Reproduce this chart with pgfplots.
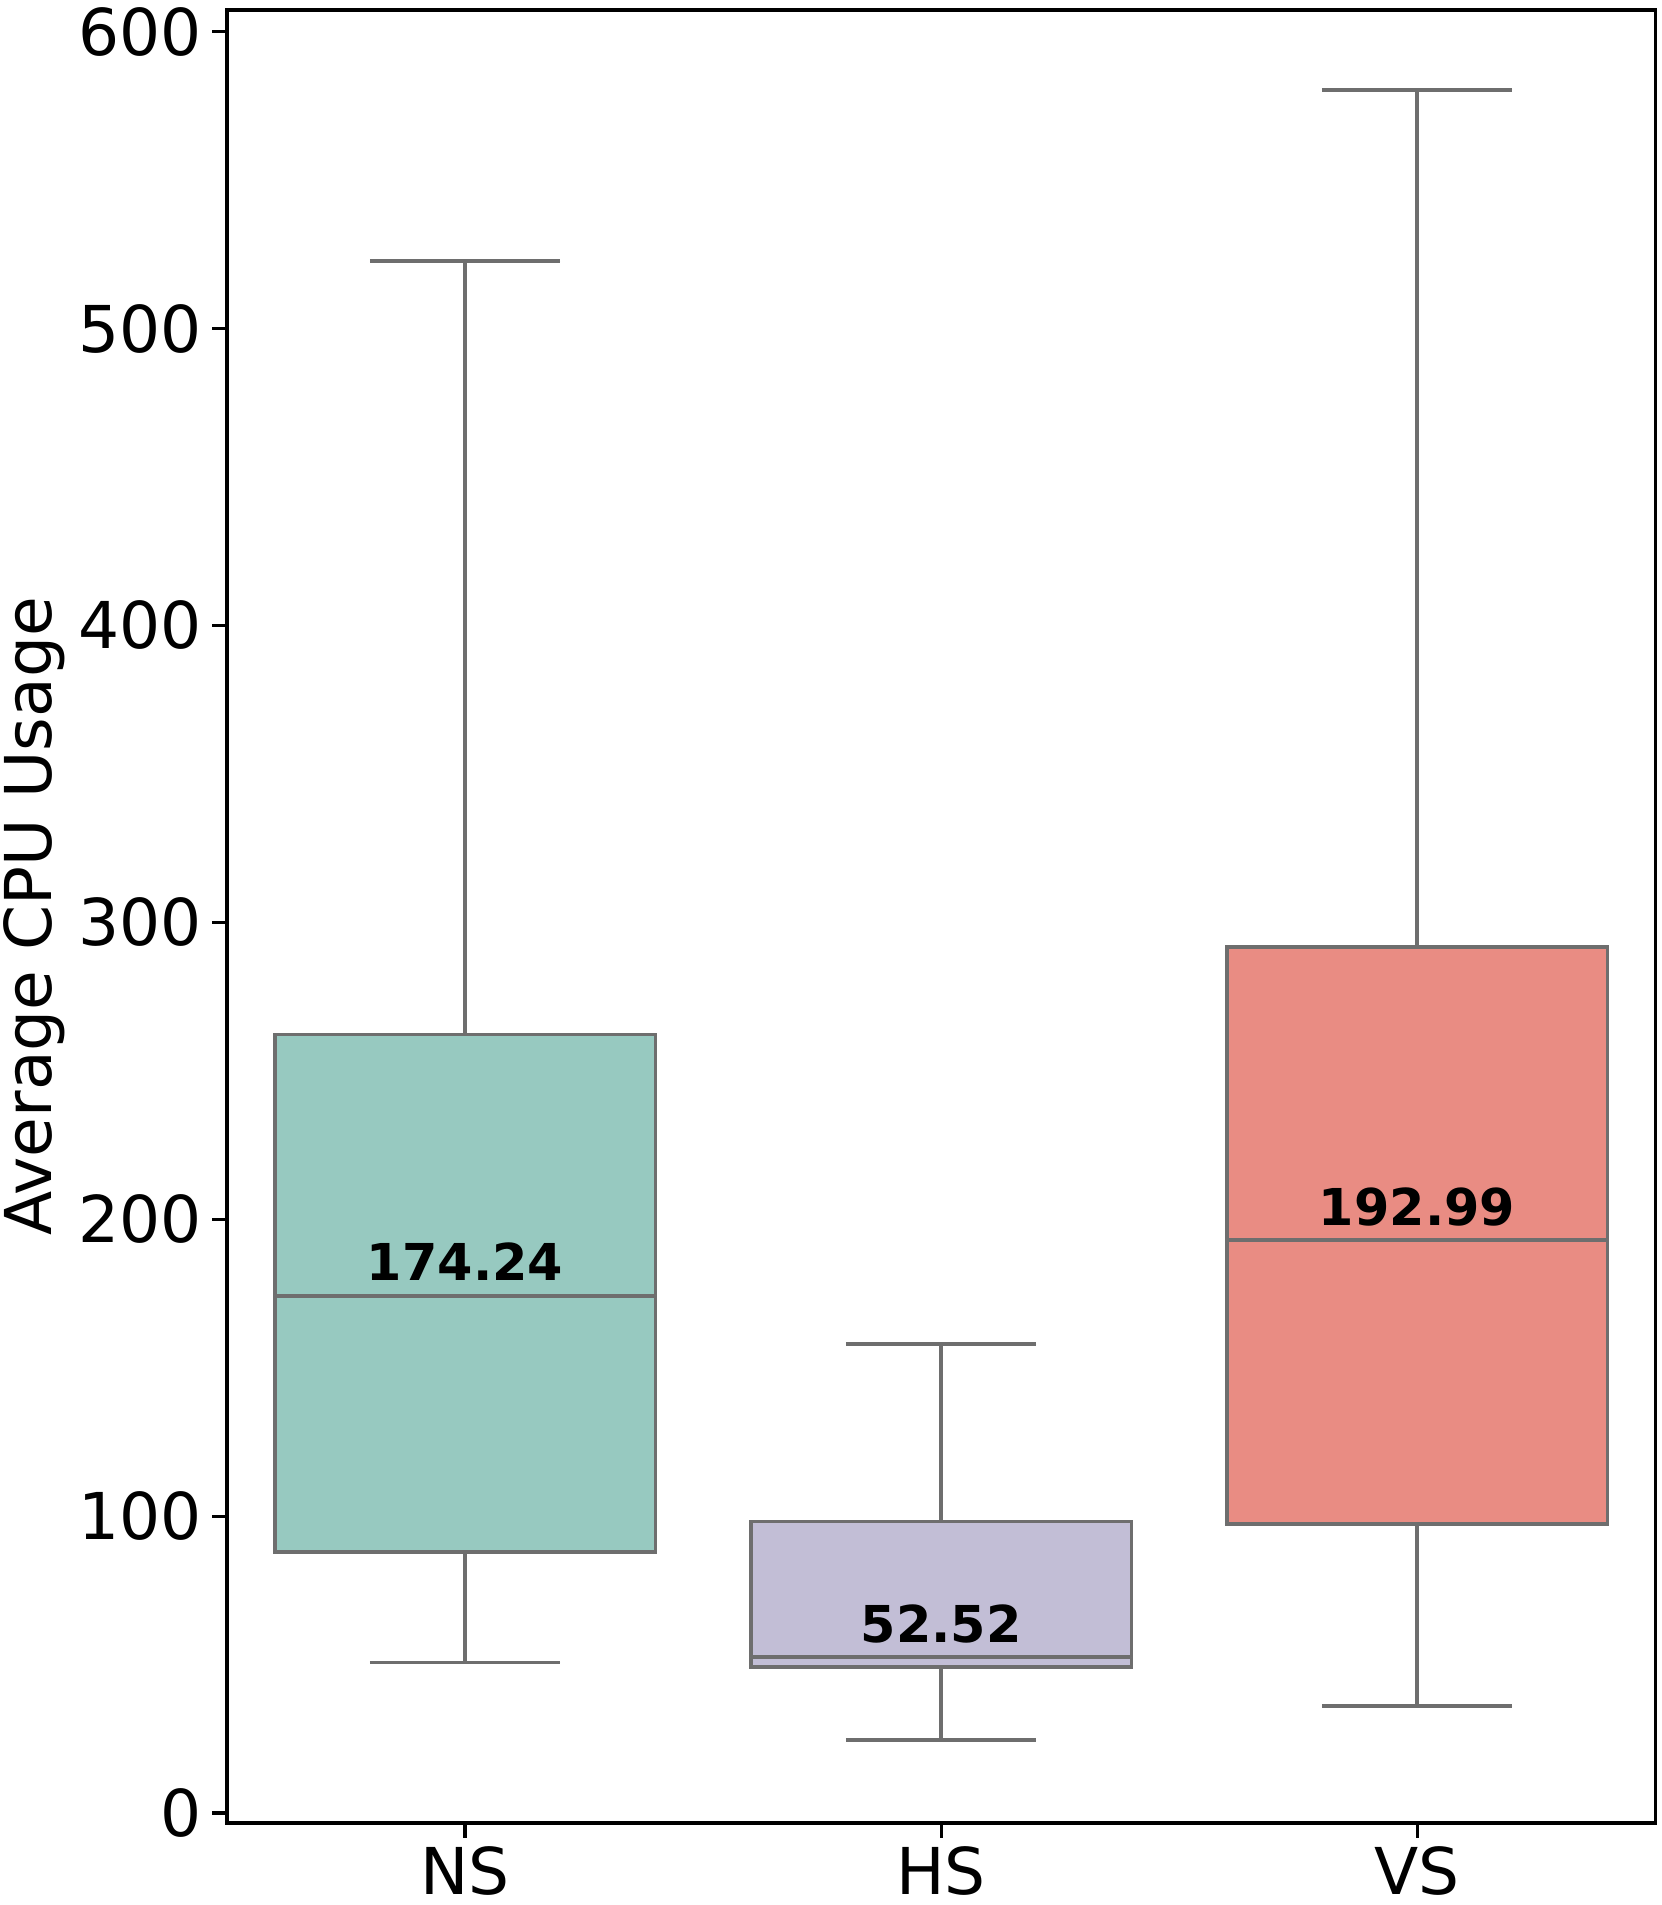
\documentclass[border=0pt]{standalone}
\usepackage{fontspec}
\setmainfont{DejaVu Sans}
\usepackage{pgfplots}
\pgfplotsset{compat=1.18}
\usepgfplotslibrary{statistics}

\definecolor{nsfill}{HTML}{97C9C0}
\definecolor{hsfill}{HTML}{C2BED6}
\definecolor{vsfill}{HTML}{E98C83}
\definecolor{linegray}{HTML}{6E6E6E}

\begin{document}
\begin{tikzpicture}
\begin{axis}[
    scale only axis,
    width=342.7pt, height=435.1pt,
    xmin=-0.5, xmax=2.5,
    ymin=-3.4, ymax=607.3,
    xtick={0,1,2},
    xticklabels={NS,HS,VS},
    ytick={0,100,...,600},
    tick align=outside,
    tick pos=left,
    major tick length=3.5pt,
    axis line style={line width=0.75pt},
    every tick/.style={black, line width=0.75pt},
    ticklabel style={font=\fontsize{15.5}{18}\selectfont},
    yticklabel style={xshift=0.9pt},
    xticklabel style={yshift=1.3pt},
    /pgf/number format/assume math mode=true,
    ylabel={Average CPU Usage},
    ylabel style={font=\fontsize{15.5}{18}\selectfont, yshift=-3.8pt},
    boxplot/draw direction=y,
]
% quartiles and whiskers
\addplot[fill=nsfill, draw=linegray, line width=0.9pt,
    boxplot prepared={median=174.24, lower quartile=87.9, upper quartile=262.2,
        lower whisker=50.7, upper whisker=522.7, draw position=0,
        box extend=0.8, whisker extend=0.4}] coordinates {};
\addplot[fill=hsfill, draw=linegray, line width=0.9pt,
    boxplot prepared={median=52.52, lower quartile=49.1, upper quartile=98.2,
        lower whisker=24.5, upper whisker=157.9, draw position=1,
        box extend=0.8, whisker extend=0.4}] coordinates {};
\addplot[fill=vsfill, draw=linegray, line width=0.9pt,
    boxplot prepared={median=192.99, lower quartile=97.3, upper quartile=291.6,
        lower whisker=36.0, upper whisker=580.4, draw position=2,
        box extend=0.8, whisker extend=0.4}] coordinates {};

\node[anchor=base, font=\bfseries\fontsize{12.2}{15}\selectfont] at (axis cs:0,179.2) {174.24};
\node[anchor=base, font=\bfseries\fontsize{12.2}{15}\selectfont] at (axis cs:1,57.4) {52.52};
\node[anchor=base, font=\bfseries\fontsize{12.2}{15}\selectfont] at (axis cs:2,197.9) {192.99};

\coordinate (bbsw) at (rel axis cs:-0.159,-0.0452);
\coordinate (bbne) at (rel axis cs:1.0042,1.0055);
\end{axis}
\pgfresetboundingbox
\useasboundingbox (bbsw) rectangle (bbne);
\end{tikzpicture}
\end{document}
